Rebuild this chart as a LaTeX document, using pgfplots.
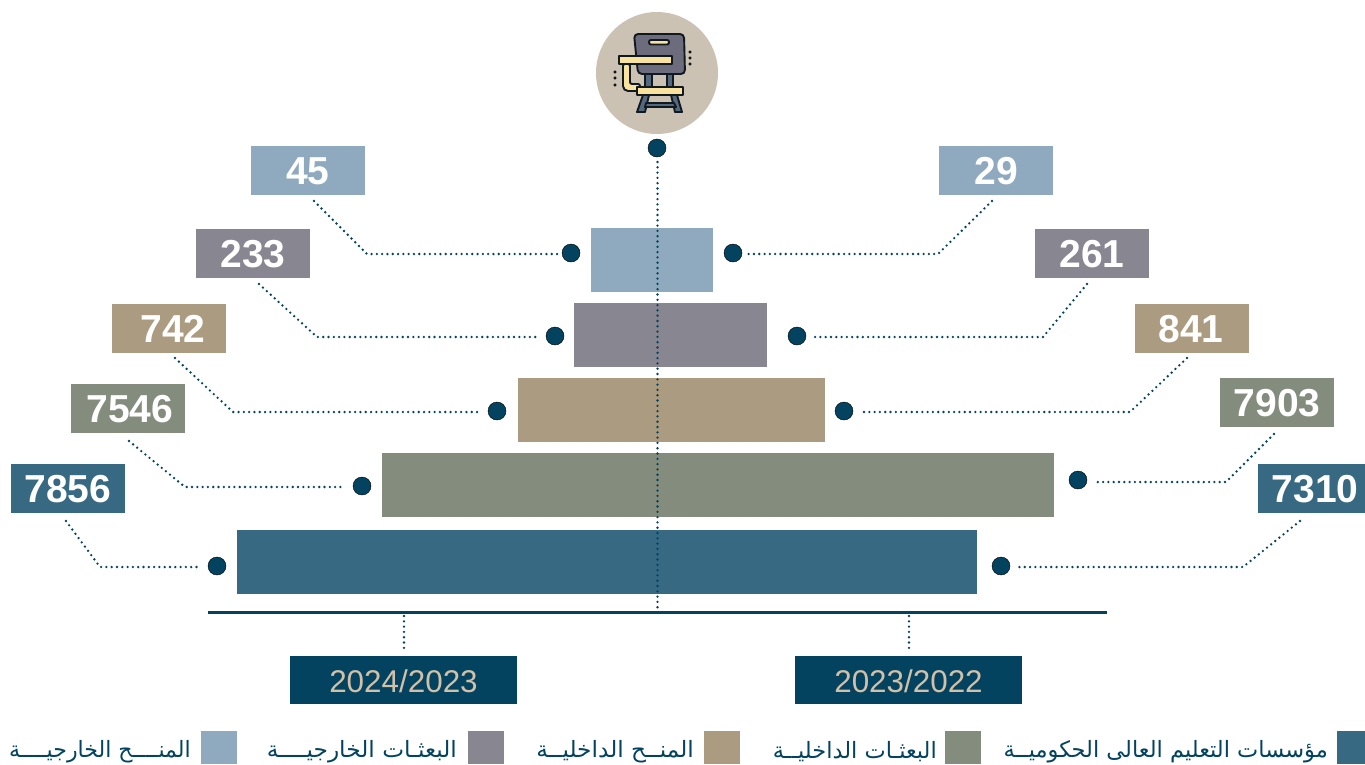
\documentclass[border=0pt]{standalone}
\usepackage{fontspec}
\usepackage{pgfplots}
\pgfplotsset{compat=1.18}
\setmainfont{Liberation Sans}
\newfontfamily\arabicfont[Script=Arabic]{DejaVu Sans}
\TeXXeTstate=1
\definecolor{cA}{HTML}{376A82}
\definecolor{cB}{HTML}{848D7D}
\definecolor{cC}{HTML}{AB9B80}
\definecolor{cD}{HTML}{878691}
\definecolor{cE}{HTML}{8FAABF}
\definecolor{dk}{HTML}{03435F}
\definecolor{yrtxt}{HTML}{D2C1A8}
\definecolor{disc}{HTML}{CBC2B3}
\definecolor{yel}{HTML}{F9E29D}
\definecolor{seatg}{HTML}{6C6C7C}
\definecolor{legg}{HTML}{54697D}
\definecolor{ink}{HTML}{101820}
\newcommand\bx[5]{\addplot[fill=#1,draw=none,forget plot] coordinates {(#2,#4)(#3,#4)(#3,#5)(#2,#5)} --cycle;}
\newcommand\lead[1]{\addplot[dk,line width=2.6pt,line cap=round,dash pattern=on 0pt off 5.3pt,forget plot] coordinates {#1};}
\newcommand\val[3]{\node[font=\fontsize{39}{39}\bfseries\selectfont,text=white,anchor=center] at (axis cs:#1,#2) {#3};}
\newcommand\yr[3]{\node[font=\fontsize{31.4}{31}\selectfont,text=yrtxt,anchor=center] at (axis cs:#1,#2) {#3};}
\newcommand\leg[4]{\node[anchor=east,inner sep=0pt,text=dk,font=\fontsize{22.5}{26}\arabicfont] at (axis cs:#1,#2) {\scalebox{#3}[1]{#4}};}
\begin{document}
\begin{tikzpicture}
\begin{axis}[name=a,hide axis,scale only axis,x=1pt,y=1pt,xmin=0,xmax=1365,ymin=0,ymax=764,y dir=reverse,clip=true]
% icon disc
\fill[disc] (axis cs:657,73) circle[radius=61pt];
% leaders
\lead{(314,201)(367,254)(560,254)}
\lead{(992,201)(938,254)(746,254)}
\lead{(259,284)(317,337)(540,337)}
\lead{(1087,284)(1043,337)(813,337)}
\lead{(175,358)(233,412)(481,412)}
\lead{(1187,358)(1130,412)(860,412)}
\lead{(129,441)(185,487)(345,487)}
\lead{(1274,434)(1226,482)(1094,482)}
\lead{(66,521)(100,567)(198,567)}
\lead{(1300,521)(1243,567)(1017,567)}
\lead{(404,616)(404,652)}
\lead{(909,616)(909,652)}
% bars
\bx{cE}{591}{713}{228}{292}
\bx{cD}{574}{767}{303}{367}
\bx{cC}{518}{825}{378}{442}
\bx{cB}{382}{1054}{453}{517}
\bx{cA}{237}{977}{530}{594}
% centre line
\lead{(657.5,162)(657.5,608)}
% baseline
\addplot[dk,line width=3pt,forget plot] coordinates {(208,612)(1107,612)};
% dots
\addplot[only marks,mark=*,mark size=9pt,mark options={fill=dk,draw=none},forget plot] coordinates {(657,148)(571,253)(733,253)(555,336)(797,336)(497,411)(844,411)(362,486)(1078,480)(217,566)(1001,566)};
% value boxes
\bx{cE}{251}{365}{146}{195}
\bx{cE}{939}{1053}{146}{195}
\bx{cD}{196}{310}{229}{278}
\bx{cD}{1035}{1149}{229}{278}
\bx{cC}{112}{226}{304}{353}
\bx{cC}{1135}{1249}{304}{353}
\bx{cB}{71}{185}{384}{433}
\bx{cB}{1220}{1334}{378}{427}
\bx{cA}{11}{125}{464}{513}
\bx{cA}{1258}{1372}{464}{513}
\val{308}{171}{45}
\val{996}{171}{29}
\val{253}{254}{233}
\val{1092}{254}{261}
\val{173}{329}{742}
\val{1191}{329}{841}
\val{130}{409}{7546}
\val{1277}{403}{7903}
\val{68}{489}{7856}
\val{1315}{489}{7310}
% year boxes
\bx{dk}{290}{517}{656}{704}
\bx{dk}{795}{1022}{656}{704}
\yr{403.5}{681}{2024/2023}
\yr{908.5}{681}{2023/2022}
% legend swatches
\bx{cA}{1337}{1365}{731}{764}
\bx{cB}{945}{981}{731}{764}
\bx{cC}{704}{740}{731}{764}
\bx{cD}{468}{504}{731}{764}
\bx{cE}{201}{237}{731}{764}
\leg{1328}{752}{1}{\beginR مؤسسات التعليم العالى الحكوميــة\endR}
\leg{937}{752}{1}{\beginR البعثـات الداخليــة\endR}
\leg{694}{752}{1.033}{\beginR المنــح الداخليــة\endR}
\leg{457}{752}{1.033}{\beginR البعثـات الخارجيــــة\endR}
\leg{191}{752}{0.98}{\beginR المنــــح الخارجيــــة\endR}
% chair icon
\begin{scope}[line width=1.9pt,draw=ink,line join=round]
\filldraw[fill=legg] (axis cs:643,95)--(649,95)--(645,112)--(637,112)--cycle;
\filldraw[fill=legg] (axis cs:671,95)--(677,95)--(682,112)--(675,112)--cycle;
\filldraw[fill=legg] (axis cs:646,103)--(674,103)--(676,107)--(645,107)--cycle;
\filldraw[fill=legg] (axis cs:645,73)--(652,73)--(652,87)--(645,87)--cycle;
\filldraw[fill=legg] (axis cs:667,73)--(673,73)--(673,87)--(667,87)--cycle;
\filldraw[fill=seatg,rounded corners=4pt] (axis cs:634,34)--(684,34)--(685,74)--(638,74)--cycle;
\filldraw[fill=yel,rounded corners=2pt] (axis cs:649,40)--(669,40)--(669,44.5)--(649,44.5)--cycle;
\filldraw[fill=yel,rounded corners=2pt] (axis cs:623,64)--(630,64)--(630,84)--(640,84)--(640,91)--(626,91)--(623,88)--cycle;
\filldraw[fill=yel] (axis cs:619,56)--(672,56)--(672,64)--(619,64)--cycle;
\filldraw[fill=yel] (axis cs:637,87)--(683,87)--(683,95)--(637,95)--cycle;
\end{scope}
\addplot[only marks,mark=*,mark size=1.3pt,mark options={fill=ink,draw=none},forget plot] coordinates {(690,52)(690,58)(690,64)(615,72)(615,78)(615,85)};
\end{axis}
\pgfresetboundingbox
\path (a.south west) rectangle (a.north east);
\end{tikzpicture}
\end{document}
